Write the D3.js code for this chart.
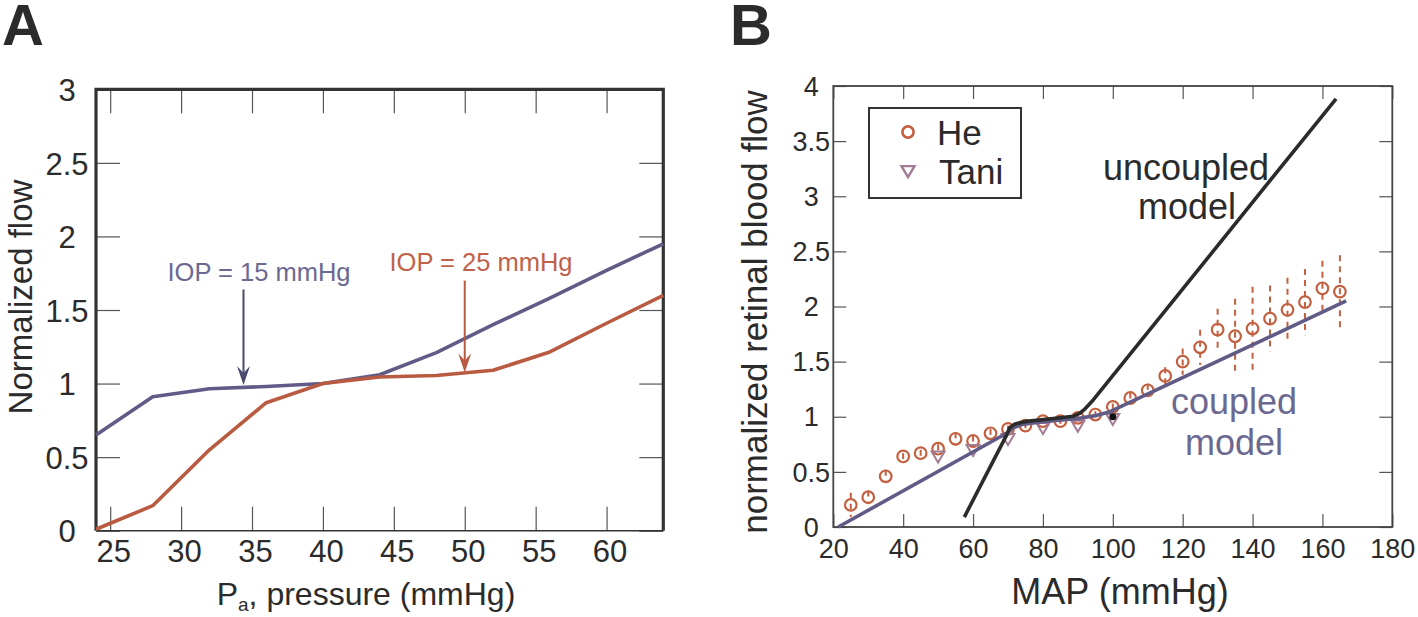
<!DOCTYPE html>
<html><head><meta charset="utf-8">
<script src="https://cdn.jsdelivr.net/npm/d3@7"></script>
<style>
body{margin:0;background:#fff;}
svg{font-family:"Liberation Sans", Arial, Helvetica, sans-serif;}
</style>
</head><body>
<svg id="c" width="1418" height="617"></svg>
<script>
// ---------- Panel A data ----------
const aPressure   = [24, 28, 32, 36, 40, 44, 48, 52, 56, 60, 64];
const aFlowIOP15  = [0.65, 0.91, 0.965, 0.98, 1.0, 1.06, 1.21, 1.40, 1.58, 1.77, 1.95];
const aFlowIOP25  = [0.01, 0.17, 0.55, 0.87, 1.0, 1.045, 1.055, 1.09, 1.215, 1.41, 1.60];
const aXTicks     = [25, 30, 35, 40, 45, 50, 55, 60];
const aYTicks     = [0, 0.5, 1, 1.5, 2, 2.5, 3];
const aYTickLabels = ["0", "0.5", "1", "1.5", "2", "2.5", "3"];
const aArrowX     = [34.4, 50];
const aArrowTop   = [1.64, 1.70];
const aArrowTip   = [0.99, 1.075];
const aLabels     = ["IOP = 15 mmHg", "IOP = 25 mmHg"];

// ---------- Panel B data ----------
const heMAP  = [25,30,35,40,45,50,55,60,65,70,75,80,85,90,95,100,105,110,115,120,125,130,135,140,145,150,155,160,165];
const heFlow = [0.20,0.27,0.46,0.64,0.67,0.71,0.80,0.78,0.85,0.89,0.92,0.96,0.96,0.99,1.02,1.09,1.17,1.24,1.37,1.50,1.63,1.79,1.73,1.80,1.89,1.97,2.04,2.165,2.135];
const heErr  = [0.11,0.06,0.06,0.03,0.03,0.04,0.06,0.05,0.04,0.03,0.03,0.03,0.03,0.03,0.03,0.03,0.05,0.06,0.08,0.12,0.16,0.19,0.34,0.38,0.30,0.29,0.30,0.25,0.33];
const taniMAP  = [50, 60, 70, 80, 90, 100];
const taniFlow = [0.64, 0.70, 0.80, 0.90, 0.92, 0.98];
const coupledMAP    = [21.4, 69.6, 71.5, 74, 80, 90, 95, 99.2, 166.8];
const coupledFlow   = [0, 0.85, 0.90, 0.93, 0.955, 0.985, 1.01, 1.046, 2.05];
const uncoupledMAP  = [57.5, 69.6, 70.5, 72, 75.3, 83, 88.7, 90.5, 92, 94.4, 163.9];
const uncoupledFlow = [0.09, 0.834, 0.90, 0.935, 0.958, 0.984, 1.005, 1.03, 1.07, 1.152, 3.884];
const refMAP = [100], refFlow = [1.0];
const bXTicks = [20, 40, 60, 80, 100, 120, 140, 160, 180];
const bYTicks = [0, 0.5, 1, 1.5, 2, 2.5, 3, 3.5, 4];
const bYTickLabels = ["0", "0.5", "1", "1.5", "2", "2.5", "3", "3.5", "4"];
const legendNames = ["He", "Tani"];

// ---------- colours ----------
const cBlue = "#605c87", cBlueText = "#6b6892";
const cRed = "#b95b41", cRedText = "#c0624a";
const cHe = "#c2603f", cTani = "#a27c94";
const cDark = "#2b2b2b", cTick = "#555";

const svg = d3.select("#c");

// ================= PANEL A =================
const xA = d3.scaleLinear([24, 64], [96, 663.3]);
const yA = d3.scaleLinear([0, 3], [530.7, 89.3]);
const gA = svg.append("g");

gA.append("text").attr("x", 2).attr("y", 45).attr("font-size", 58).attr("font-weight", "bold")
  .attr("fill", cDark).text("A");

const axA_b = gA.append("g").attr("transform", `translate(0,${yA(0)})`)
  .call(d3.axisBottom(xA).tickValues(aXTicks).tickSizeInner(-24).tickSizeOuter(0).tickPadding(9).tickFormat(d3.format("d")));
const axA_t = gA.append("g").attr("transform", `translate(0,${yA(3)})`)
  .call(d3.axisTop(xA).tickValues(aXTicks).tickSizeInner(-24).tickSizeOuter(0).tickFormat(""));
const axA_l = gA.append("g").attr("transform", `translate(${xA(24)},0)`)
  .call(d3.axisLeft(yA).tickValues(aYTicks).tickSizeInner(-24).tickSizeOuter(0).tickFormat((d, i) => aYTickLabels[i]));
const axA_r = gA.append("g").attr("transform", `translate(${xA(64)},0)`)
  .call(d3.axisRight(yA).tickValues(aYTicks).tickSizeInner(-24).tickSizeOuter(0).tickFormat(""));
[axA_b, axA_t, axA_l, axA_r].forEach(a => {
  a.select(".domain").remove();
  a.selectAll(".tick line").attr("stroke", cTick).attr("stroke-width", 1.2);
  a.selectAll("text").attr("font-size", 31).attr("fill", cDark).attr("font-family", null);
});
axA_b.selectAll("text").attr("dx", 3);
axA_l.selectAll("text").attr("text-anchor", "middle").attr("x", -29).attr("dy", "0.36em");
gA.append("line").attr("x1", xA(24)).attr("x2", xA(64)).attr("y1", yA(0)).attr("y2", yA(0)).attr("stroke", "#333").attr("stroke-width", 1.5);
gA.append("path").attr("d", `M${xA(24)},${yA(0)}V${yA(3)}H${xA(64)}V${yA(0)}`)
  .attr("fill", "none").attr("stroke", "#333").attr("stroke-width", 3.2);

const lineA = d3.line().x(d => xA(d[0])).y(d => yA(d[1]));
gA.append("path").datum(d3.zip(aPressure, aFlowIOP15)).attr("d", lineA)
  .attr("fill", "none").attr("stroke", cBlue).attr("stroke-width", 3.6).attr("stroke-linejoin", "round");
gA.append("path").datum(d3.zip(aPressure, aFlowIOP25)).attr("d", lineA)
  .attr("fill", "none").attr("stroke", cRed).attr("stroke-width", 3.6).attr("stroke-linejoin", "round");

const arrowCols = ["#4c4a6e", cRed];
aArrowX.forEach((ax, i) => {
  const x = xA(ax), y0 = yA(aArrowTop[i]), y1 = yA(aArrowTip[i]);
  gA.append("line").attr("x1", x).attr("x2", x).attr("y1", y0).attr("y2", y1 - 8)
    .attr("stroke", arrowCols[i]).attr("stroke-width", 2);
  gA.append("path").attr("d", `M${x},${y1}L${x - 6.5},${y1 - 19}L${x},${y1 - 12}L${x + 6.5},${y1 - 19}Z`)
    .attr("fill", arrowCols[i]);
});
gA.append("text").attr("x", 259).attr("y", 281).attr("text-anchor", "middle").attr("font-size", 25.5)
  .attr("fill", cBlueText).text(aLabels[0]);
gA.append("text").attr("x", 481).attr("y", 271).attr("text-anchor", "middle").attr("font-size", 25.5)
  .attr("fill", cRedText).text(aLabels[1]);

const tA = gA.append("text").attr("x", 366).attr("y", 605).attr("text-anchor", "middle")
  .attr("font-size", 32).attr("fill", cDark);
tA.append("tspan").text("P");
tA.append("tspan").attr("font-size", 19).attr("dy", 6).text("a");
tA.append("tspan").attr("dy", -6).text(", pressure (mmHg)");
gA.append("text").attr("transform", "translate(32,297) rotate(-90)").attr("text-anchor", "middle")
  .attr("font-size", 33).attr("fill", cDark).text("Normalized flow");

// ================= PANEL B =================
const xB = d3.scaleLinear([20, 180], [833.3, 1392.3]);
const yB = d3.scaleLinear([0, 4], [527, 86]);
const gB = svg.append("g");

gB.append("text").attr("x", 730).attr("y", 45).attr("font-size", 58).attr("font-weight", "bold")
  .attr("fill", cDark).text("B");

const axB_b = gB.append("g").attr("transform", `translate(0,${yB(0)})`)
  .call(d3.axisBottom(xB).tickValues(bXTicks).tickSizeInner(-13).tickSizeOuter(0).tickPadding(12).tickFormat(d3.format("d")));
const axB_t = gB.append("g").attr("transform", `translate(0,${yB(4)})`)
  .call(d3.axisTop(xB).tickValues(bXTicks).tickSizeInner(-13).tickSizeOuter(0).tickFormat(""));
const axB_l = gB.append("g").attr("transform", `translate(${xB(20)},0)`)
  .call(d3.axisLeft(yB).tickValues(bYTicks).tickSizeInner(-13).tickSizeOuter(0).tickFormat((d, i) => bYTickLabels[i]));
const axB_r = gB.append("g").attr("transform", `translate(${xB(180)},0)`)
  .call(d3.axisRight(yB).tickValues(bYTicks).tickSizeInner(-13).tickSizeOuter(0).tickFormat(""));
[axB_b, axB_t, axB_l, axB_r].forEach(a => {
  a.select(".domain").remove();
  a.selectAll(".tick line").attr("stroke", cTick).attr("stroke-width", 1.2);
  a.selectAll("text").attr("font-size", 27).attr("fill", cDark).attr("font-family", null);
});
axB_l.selectAll("text").attr("text-anchor", "middle").attr("x", -22).attr("dy", "0.34em");
gB.append("rect").attr("x", xB(20)).attr("y", yB(4)).attr("width", xB(180) - xB(20)).attr("height", yB(0) - yB(4))
  .attr("fill", "none").attr("stroke", "#444").attr("stroke-width", 1.8);

const heData = d3.zip(heMAP, heFlow, heErr);
gB.append("g").selectAll("line").data(heData).join("line")
  .attr("x1", d => xB(d[0])).attr("x2", d => xB(d[0]))
  .attr("y1", d => yB(d[1] + d[2])).attr("y2", d => yB(d[1] - d[2]))
  .attr("stroke", cHe).attr("stroke-width", 2).attr("stroke-dasharray", "6,5");
gB.append("g").selectAll("circle").data(heData).join("circle")
  .attr("cx", d => xB(d[0])).attr("cy", d => yB(d[1])).attr("r", 5.8)
  .attr("fill", "none").attr("stroke", cHe).attr("stroke-width", 2.2);
const tri = (x, y, s) => `M${x - s},${y - s * 0.75}L${x + s},${y - s * 0.75}L${x},${y + s * 0.95}Z`;
gB.append("g").selectAll("path").data(d3.zip(taniMAP, taniFlow)).join("path")
  .attr("d", d => tri(xB(d[0]), yB(d[1]), 6.5))
  .attr("fill", "none").attr("stroke", cTani).attr("stroke-width", 2);

const lineB = d3.line().x(d => xB(d[0])).y(d => yB(d[1]));
gB.append("path").datum(d3.zip(coupledMAP, coupledFlow)).attr("d", lineB)
  .attr("fill", "none").attr("stroke", cBlue).attr("stroke-width", 3.6).attr("stroke-linejoin", "round");
gB.append("path").datum(d3.zip(uncoupledMAP, uncoupledFlow)).attr("d", lineB)
  .attr("fill", "none").attr("stroke", cDark).attr("stroke-width", 3.6).attr("stroke-linejoin", "round");
gB.append("g").selectAll("circle").data(d3.zip(refMAP, refFlow)).join("circle")
  .attr("cx", d => xB(d[0])).attr("cy", d => yB(d[1])).attr("r", 3.5).attr("fill", "#111");

gB.append("text").attr("x", 1186).attr("y", 180).attr("text-anchor", "middle").attr("font-size", 36).attr("fill", cDark).text("uncoupled");
gB.append("text").attr("x", 1187).attr("y", 219).attr("text-anchor", "middle").attr("font-size", 36).attr("fill", cDark).text("model");
gB.append("text").attr("x", 1234).attr("y", 414).attr("text-anchor", "middle").attr("font-size", 36).attr("fill", cBlueText).text("coupled");
gB.append("text").attr("x", 1234).attr("y", 455).attr("text-anchor", "middle").attr("font-size", 36).attr("fill", cBlueText).text("model");

gB.append("rect").attr("x", 869).attr("y", 108).attr("width", 152).attr("height", 90)
  .attr("fill", "#fff").attr("stroke", "#333").attr("stroke-width", 2);
gB.append("circle").attr("cx", 908).attr("cy", 132).attr("r", 5.6).attr("fill", "none").attr("stroke", cHe).attr("stroke-width", 2.6);
gB.append("path").attr("d", tri(908, 171, 6.5)).attr("fill", "none").attr("stroke", cTani).attr("stroke-width", 2.4);
gB.append("text").attr("x", 937).attr("y", 145).attr("font-size", 35).attr("fill", cDark).text(legendNames[0]);
gB.append("text").attr("x", 939).attr("y", 184).attr("font-size", 35).attr("fill", cDark).text(legendNames[1]);

gB.append("text").attr("x", 1120).attr("y", 604).attr("text-anchor", "middle").attr("font-size", 36).attr("fill", cDark).text("MAP (mmHg)");
gB.append("text").attr("transform", "translate(767,312) rotate(-90)").attr("text-anchor", "middle")
  .attr("font-size", 35).attr("fill", cDark).text("normalized retinal blood flow");
</script>
</body></html>
